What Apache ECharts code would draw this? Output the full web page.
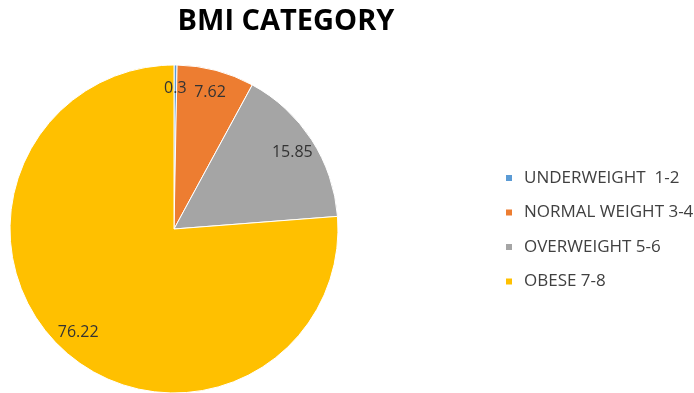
<!DOCTYPE html>
<html>
<head>
<meta charset="utf-8">
<script src="https://cdn.jsdelivr.net/npm/echarts@6/dist/echarts.min.js"></script>
<style>
  html, body { margin: 0; padding: 0; background: #fff; }
  #chart { width: 694px; height: 393px; }
</style>
</head>
<body>
<div id="chart"></div>
<script>
// data
const categories = ['UNDERWEIGHT  1-2', 'NORMAL WEIGHT 3-4', 'OVERWEIGHT 5-6', 'OBESE 7-8']
const values = [0.3, 7.62, 15.85, 76.22]
const colors = ['#5B9BD5', '#ED7D31', '#A5A5A5', '#FFC000']

const pieData = categories.map((name, i) => ({ name: name, value: values[i] }))

const chart = echarts.init(document.getElementById('chart'))

const option = {
  animation: false,
  color: colors,
  title: {
    text: 'BMI CATEGORY',
    left: 281,
    textAlign: 'center',
    top: 2,
    textStyle: {
      fontFamily: 'Open Sans',
      fontWeight: 'bold',
      fontSize: 29,
      color: '#000'
    }
  },
  legend: {
    orient: 'vertical',
    left: 504,
    top: 168,
    icon: 'rect',
    itemWidth: 8,
    itemHeight: 8,
    itemGap: 14.5,
    padding: 0,
    data: categories,
    textStyle: {
      fontFamily: 'Open Sans',
      fontSize: 17,
      lineHeight: 20,
      padding: [0, 0, 0, 6],
      color: '#404040'
    }
  },
  series: [
    {
      // the slices
      type: 'pie',
      center: [174, 229],
      radius: [0, 164],
      startAngle: 90,
      clockwise: true,
      silent: true,
      label: { show: false },
      labelLine: { show: false },
      itemStyle: { borderColor: '#fff', borderWidth: 1 },
      data: pieData
    },
    {
      // transparent ring, only used to place value labels near the rim
      type: 'pie',
      center: [174, 229],
      radius: [112, 164],
      startAngle: 90,
      clockwise: true,
      silent: true,
      legendHoverLink: false,
      itemStyle: { color: 'rgba(0,0,0,0)' },
      label: {
        show: true,
        position: 'inside',
        formatter: p => p.value,
        fontFamily: 'Open Sans',
        fontSize: 16,
        color: '#333'
      },
      labelLine: { show: false },
      data: pieData.map(d => ({ name: d.name + ' ', value: d.value }))
    }
  ]
}

chart.setOption(option)
window.onresize = function () {
  chart.resize()
}
</script>
</body>
</html>
